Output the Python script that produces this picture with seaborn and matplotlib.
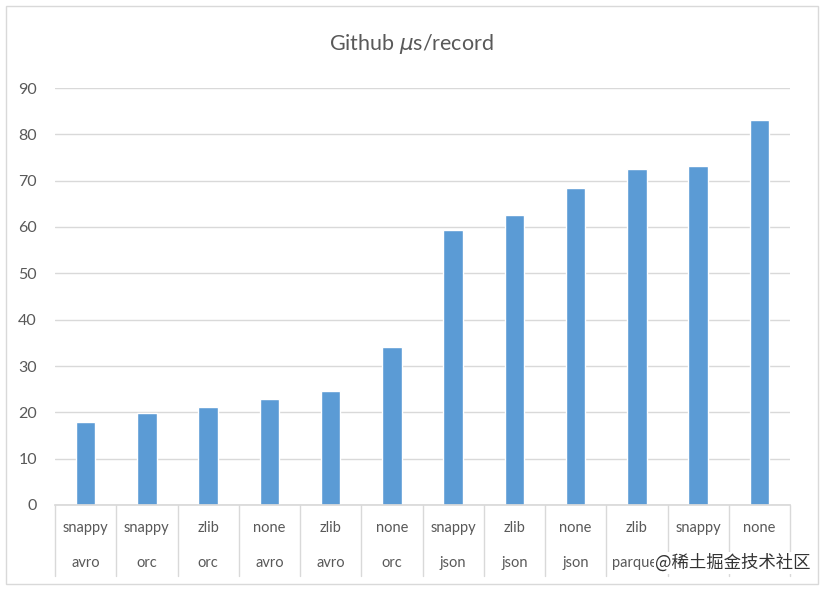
import pandas as pd
import seaborn as sns
import matplotlib.pyplot as plt
from matplotlib.patches import Rectangle
import matplotlib.transforms as mtransforms

# Data
codecs = ['snappy', 'snappy', 'zlib', 'none', 'zlib', 'none',
          'snappy', 'zlib', 'none', 'zlib', 'snappy', 'none']
formats = ['avro', 'orc', 'orc', 'avro', 'avro', 'orc',
           'json', 'json', 'json', 'parquet', 'parquet', 'parquet']
us_per_record = [18.0, 19.8, 21.2, 22.9, 24.5, 34.1,
                 59.3, 62.6, 68.5, 72.6, 73.2, 83.0]
y_ticks = [0, 10, 20, 30, 40, 50, 60, 70, 80, 90]

df = pd.DataFrame({
    'label': [f'{c}\n{f}' for c, f in zip(codecs, formats)],
    'value': us_per_record,
})

sns.set_theme(style='white')
plt.rcParams['font.family'] = ['Lato', 'DejaVu Sans']

text_grey = '#595959'
grid_grey = '#d9d9d9'

fig = plt.figure(figsize=(8.24, 5.90), dpi=100)
ax = fig.add_axes([55 / 824, 1 - 505 / 590, (790 - 55) / 824, (505 - 88) / 590])

sns.barplot(data=df, x='label', y='value', color='#5B9BD5', saturation=1,
            width=0.32, ax=ax)

ax.set_xlim(-0.5, len(df) - 0.5)
ax.set_ylim(0, 90)
ax.set_yticks(y_ticks)
ax.yaxis.grid(True, color=grid_grey, linewidth=1)
ax.set_axisbelow(True)
ax.tick_params(axis='y', length=0, pad=13, labelsize=11.5, labelcolor=text_grey)
ax.set_xticks([])
ax.set_xlabel('')
ax.set_ylabel('')
for side in ['top', 'right', 'left']:
    ax.spines[side].set_visible(False)
ax.spines['bottom'].set_color(grid_grey)

# two-level category labels with separators
trans = mtransforms.blended_transform_factory(ax.transData, ax.transAxes)
for i, (c, f) in enumerate(zip(codecs, formats)):
    ax.text(i, -0.055, c, transform=trans, ha='center', va='center',
            fontsize=10.5, color=text_grey, clip_on=False)
    ax.text(i, -0.14, f, transform=trans, ha='center', va='center',
            fontsize=10.5, color=text_grey, clip_on=False)
for i in range(len(codecs) + 1):
    ax.plot([i - 0.5, i - 0.5], [0, -0.17], transform=trans, color=grid_grey,
            linewidth=1, clip_on=False)

fig.text(411 / 824, 1 - 44 / 590, 'Github $\\mu$s/record', ha='center',
         va='center', fontsize=15.5, color=text_grey)

# outer chart border
fig.patches.append(Rectangle((6 / 824, 6 / 590), 812 / 824, 578 / 590,
                             transform=fig.transFigure, fill=False,
                             edgecolor='#d9d9d9', linewidth=1))

fig.text(733 / 824, 1 - 563 / 590, '@稀土掘金技术社区', ha='center', va='center',
         fontsize=12.5, color='#333333',
         family=['Noto Sans CJK SC', 'DejaVu Sans'],
         bbox=dict(facecolor='white', edgecolor='none', pad=1))

fig.savefig('out.png', dpi=100)
